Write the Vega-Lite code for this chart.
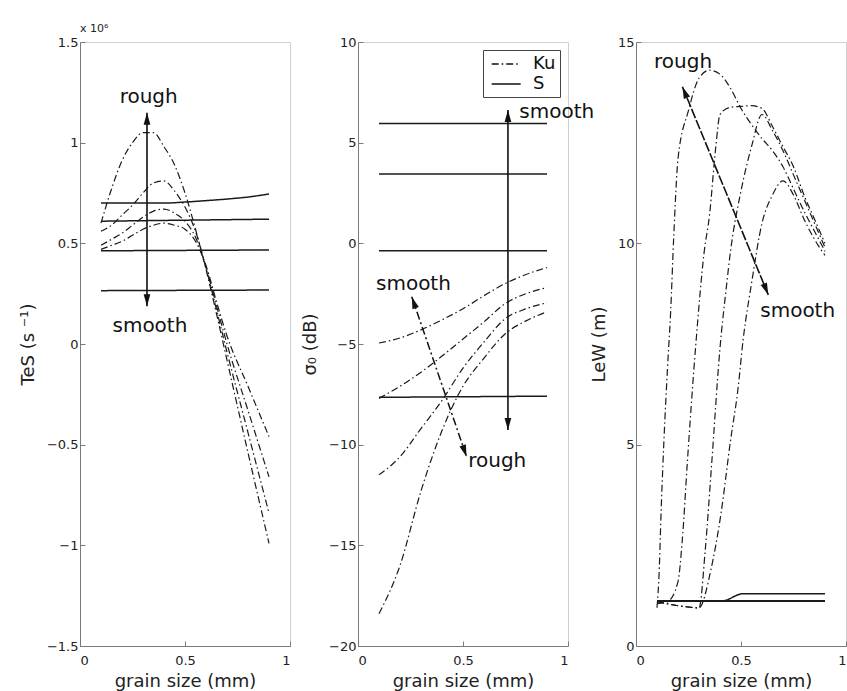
{
  "$schema": "https://vega.github.io/schema/vega-lite/v6.json",
  "background": "white",
  "padding": {"left": 18, "top": 22, "right": 0, "bottom": 0},
  "bounds": "flush",
  "spacing": 68,
  "config": {
    "font": "DejaVu Sans",
    "view": {"stroke": "#cfcfcf", "strokeWidth": 1},
    "axis": {
      "grid": false,
      "domainColor": "#7a7a7a",
      "tickColor": "#7a7a7a",
      "tickSize": -5,
      "labelColor": "#222",
      "titleColor": "#222",
      "labelFontSize": 13,
      "titleFontSize": 18,
      "titleFontWeight": "normal",
      "labelFont": "DejaVu Sans",
      "titleFont": "DejaVu Sans",
      "labelPadding": 7,
      "titlePadding": 4
    },
    "axisY": {"titlePadding": 9},
    "axisX": {"labelPadding": 13, "titlePadding": 5},
    "legend": {"symbolFillColor": "transparent"}
  },
  "datasets": {
    "p1": [
      {"curve": "A", "band": "Ku", "x": 0.1, "y": 0.6}, {"curve": "A", "band": "Ku", "x": 0.15, "y": 0.77}, {"curve": "A", "band": "Ku", "x": 0.2, "y": 0.91}, {"curve": "A", "band": "Ku", "x": 0.25, "y": 1.0}, {"curve": "A", "band": "Ku", "x": 0.3, "y": 1.05}, {"curve": "A", "band": "Ku", "x": 0.35, "y": 1.05}, {"curve": "A", "band": "Ku", "x": 0.4, "y": 0.98}, {"curve": "A", "band": "Ku", "x": 0.45, "y": 0.89}, {"curve": "A", "band": "Ku", "x": 0.5, "y": 0.75}, {"curve": "A", "band": "Ku", "x": 0.55, "y": 0.57}, {"curve": "A", "band": "Ku", "x": 0.6, "y": 0.37}, {"curve": "A", "band": "Ku", "x": 0.65, "y": 0.15}, {"curve": "A", "band": "Ku", "x": 0.7, "y": -0.08}, {"curve": "A", "band": "Ku", "x": 0.8, "y": -0.54}, {"curve": "A", "band": "Ku", "x": 0.9, "y": -0.99},
      {"curve": "B", "band": "Ku", "x": 0.1, "y": 0.56}, {"curve": "B", "band": "Ku", "x": 0.15, "y": 0.59}, {"curve": "B", "band": "Ku", "x": 0.2, "y": 0.64}, {"curve": "B", "band": "Ku", "x": 0.25, "y": 0.69}, {"curve": "B", "band": "Ku", "x": 0.3, "y": 0.75}, {"curve": "B", "band": "Ku", "x": 0.35, "y": 0.8}, {"curve": "B", "band": "Ku", "x": 0.4, "y": 0.81}, {"curve": "B", "band": "Ku", "x": 0.45, "y": 0.76}, {"curve": "B", "band": "Ku", "x": 0.5, "y": 0.68}, {"curve": "B", "band": "Ku", "x": 0.55, "y": 0.56}, {"curve": "B", "band": "Ku", "x": 0.6, "y": 0.38}, {"curve": "B", "band": "Ku", "x": 0.65, "y": 0.17}, {"curve": "B", "band": "Ku", "x": 0.7, "y": -0.04}, {"curve": "B", "band": "Ku", "x": 0.8, "y": -0.44}, {"curve": "B", "band": "Ku", "x": 0.9, "y": -0.84},
      {"curve": "C", "band": "Ku", "x": 0.1, "y": 0.49}, {"curve": "C", "band": "Ku", "x": 0.15, "y": 0.52}, {"curve": "C", "band": "Ku", "x": 0.2, "y": 0.55}, {"curve": "C", "band": "Ku", "x": 0.25, "y": 0.59}, {"curve": "C", "band": "Ku", "x": 0.3, "y": 0.63}, {"curve": "C", "band": "Ku", "x": 0.35, "y": 0.66}, {"curve": "C", "band": "Ku", "x": 0.4, "y": 0.67}, {"curve": "C", "band": "Ku", "x": 0.45, "y": 0.65}, {"curve": "C", "band": "Ku", "x": 0.5, "y": 0.61}, {"curve": "C", "band": "Ku", "x": 0.55, "y": 0.53}, {"curve": "C", "band": "Ku", "x": 0.6, "y": 0.38}, {"curve": "C", "band": "Ku", "x": 0.65, "y": 0.19}, {"curve": "C", "band": "Ku", "x": 0.7, "y": 0.0}, {"curve": "C", "band": "Ku", "x": 0.8, "y": -0.33}, {"curve": "C", "band": "Ku", "x": 0.9, "y": -0.66},
      {"curve": "D", "band": "Ku", "x": 0.1, "y": 0.47}, {"curve": "D", "band": "Ku", "x": 0.15, "y": 0.49}, {"curve": "D", "band": "Ku", "x": 0.2, "y": 0.51}, {"curve": "D", "band": "Ku", "x": 0.25, "y": 0.54}, {"curve": "D", "band": "Ku", "x": 0.3, "y": 0.57}, {"curve": "D", "band": "Ku", "x": 0.35, "y": 0.59}, {"curve": "D", "band": "Ku", "x": 0.4, "y": 0.6}, {"curve": "D", "band": "Ku", "x": 0.45, "y": 0.59}, {"curve": "D", "band": "Ku", "x": 0.5, "y": 0.57}, {"curve": "D", "band": "Ku", "x": 0.55, "y": 0.51}, {"curve": "D", "band": "Ku", "x": 0.6, "y": 0.39}, {"curve": "D", "band": "Ku", "x": 0.65, "y": 0.21}, {"curve": "D", "band": "Ku", "x": 0.7, "y": 0.04}, {"curve": "D", "band": "Ku", "x": 0.8, "y": -0.21}, {"curve": "D", "band": "Ku", "x": 0.9, "y": -0.46},
      {"curve": "S1", "band": "S", "x": 0.1, "y": 0.7}, {"curve": "S1", "band": "S", "x": 0.4, "y": 0.7}, {"curve": "S1", "band": "S", "x": 0.5, "y": 0.705}, {"curve": "S1", "band": "S", "x": 0.6, "y": 0.712}, {"curve": "S1", "band": "S", "x": 0.7, "y": 0.72}, {"curve": "S1", "band": "S", "x": 0.8, "y": 0.73}, {"curve": "S1", "band": "S", "x": 0.9, "y": 0.745},
      {"curve": "S2", "band": "S", "x": 0.1, "y": 0.61}, {"curve": "S2", "band": "S", "x": 0.9, "y": 0.62},
      {"curve": "S3", "band": "S", "x": 0.1, "y": 0.463}, {"curve": "S3", "band": "S", "x": 0.9, "y": 0.467},
      {"curve": "S4", "band": "S", "x": 0.1, "y": 0.265}, {"curve": "S4", "band": "S", "x": 0.9, "y": 0.268}
    ],
    "p2": [
      {"curve": "K1", "band": "Ku", "x": 0.1, "y": -4.95}, {"curve": "K1", "band": "Ku", "x": 0.2, "y": -4.7}, {"curve": "K1", "band": "Ku", "x": 0.3, "y": -4.3}, {"curve": "K1", "band": "Ku", "x": 0.4, "y": -3.8}, {"curve": "K1", "band": "Ku", "x": 0.5, "y": -3.25}, {"curve": "K1", "band": "Ku", "x": 0.6, "y": -2.6}, {"curve": "K1", "band": "Ku", "x": 0.7, "y": -2.0}, {"curve": "K1", "band": "Ku", "x": 0.8, "y": -1.55}, {"curve": "K1", "band": "Ku", "x": 0.9, "y": -1.2},
      {"curve": "K2", "band": "Ku", "x": 0.1, "y": -7.7}, {"curve": "K2", "band": "Ku", "x": 0.2, "y": -7.1}, {"curve": "K2", "band": "Ku", "x": 0.3, "y": -6.4}, {"curve": "K2", "band": "Ku", "x": 0.4, "y": -5.6}, {"curve": "K2", "band": "Ku", "x": 0.5, "y": -4.75}, {"curve": "K2", "band": "Ku", "x": 0.6, "y": -3.9}, {"curve": "K2", "band": "Ku", "x": 0.7, "y": -3.0}, {"curve": "K2", "band": "Ku", "x": 0.8, "y": -2.5}, {"curve": "K2", "band": "Ku", "x": 0.9, "y": -2.2},
      {"curve": "K3", "band": "Ku", "x": 0.1, "y": -11.5}, {"curve": "K3", "band": "Ku", "x": 0.2, "y": -10.6}, {"curve": "K3", "band": "Ku", "x": 0.3, "y": -9.2}, {"curve": "K3", "band": "Ku", "x": 0.4, "y": -7.8}, {"curve": "K3", "band": "Ku", "x": 0.5, "y": -6.2}, {"curve": "K3", "band": "Ku", "x": 0.6, "y": -4.9}, {"curve": "K3", "band": "Ku", "x": 0.7, "y": -3.75}, {"curve": "K3", "band": "Ku", "x": 0.8, "y": -3.25}, {"curve": "K3", "band": "Ku", "x": 0.9, "y": -2.95},
      {"curve": "K4", "band": "Ku", "x": 0.1, "y": -18.4}, {"curve": "K4", "band": "Ku", "x": 0.2, "y": -16.0}, {"curve": "K4", "band": "Ku", "x": 0.3, "y": -12.3}, {"curve": "K4", "band": "Ku", "x": 0.4, "y": -9.3}, {"curve": "K4", "band": "Ku", "x": 0.5, "y": -7.1}, {"curve": "K4", "band": "Ku", "x": 0.6, "y": -5.7}, {"curve": "K4", "band": "Ku", "x": 0.7, "y": -4.5}, {"curve": "K4", "band": "Ku", "x": 0.8, "y": -3.85}, {"curve": "K4", "band": "Ku", "x": 0.9, "y": -3.4},
      {"curve": "S1", "band": "S", "x": 0.1, "y": 5.95}, {"curve": "S1", "band": "S", "x": 0.9, "y": 5.95},
      {"curve": "S2", "band": "S", "x": 0.1, "y": 3.44}, {"curve": "S2", "band": "S", "x": 0.9, "y": 3.44},
      {"curve": "S3", "band": "S", "x": 0.1, "y": -0.37}, {"curve": "S3", "band": "S", "x": 0.9, "y": -0.37},
      {"curve": "S4", "band": "S", "x": 0.1, "y": -7.65}, {"curve": "S4", "band": "S", "x": 0.9, "y": -7.59}
    ],
    "p3": [
      {"curve": "a", "band": "Ku", "x": 0.1, "y": 0.95}, {"curve": "a", "band": "Ku", "x": 0.11, "y": 1.8}, {"curve": "a", "band": "Ku", "x": 0.12, "y": 3.4}, {"curve": "a", "band": "Ku", "x": 0.133, "y": 5.1}, {"curve": "a", "band": "Ku", "x": 0.15, "y": 6.9}, {"curve": "a", "band": "Ku", "x": 0.165, "y": 8.3}, {"curve": "a", "band": "Ku", "x": 0.18, "y": 10.2}, {"curve": "a", "band": "Ku", "x": 0.2, "y": 12.1}, {"curve": "a", "band": "Ku", "x": 0.25, "y": 13.3}, {"curve": "a", "band": "Ku", "x": 0.3, "y": 14.1}, {"curve": "a", "band": "Ku", "x": 0.35, "y": 14.3}, {"curve": "a", "band": "Ku", "x": 0.4, "y": 14.2}, {"curve": "a", "band": "Ku", "x": 0.45, "y": 13.85}, {"curve": "a", "band": "Ku", "x": 0.5, "y": 13.35}, {"curve": "a", "band": "Ku", "x": 0.55, "y": 12.95}, {"curve": "a", "band": "Ku", "x": 0.6, "y": 12.6}, {"curve": "a", "band": "Ku", "x": 0.65, "y": 12.3}, {"curve": "a", "band": "Ku", "x": 0.7, "y": 11.9}, {"curve": "a", "band": "Ku", "x": 0.75, "y": 11.35}, {"curve": "a", "band": "Ku", "x": 0.8, "y": 10.8}, {"curve": "a", "band": "Ku", "x": 0.85, "y": 10.3}, {"curve": "a", "band": "Ku", "x": 0.9, "y": 9.8},
      {"curve": "b", "band": "Ku", "x": 0.1, "y": 1.05}, {"curve": "b", "band": "Ku", "x": 0.15, "y": 1.1}, {"curve": "b", "band": "Ku", "x": 0.2, "y": 1.6}, {"curve": "b", "band": "Ku", "x": 0.22, "y": 2.6}, {"curve": "b", "band": "Ku", "x": 0.245, "y": 4.6}, {"curve": "b", "band": "Ku", "x": 0.285, "y": 7.5}, {"curve": "b", "band": "Ku", "x": 0.325, "y": 9.8}, {"curve": "b", "band": "Ku", "x": 0.35, "y": 10.7}, {"curve": "b", "band": "Ku", "x": 0.38, "y": 12.4}, {"curve": "b", "band": "Ku", "x": 0.4, "y": 13.2}, {"curve": "b", "band": "Ku", "x": 0.45, "y": 13.38}, {"curve": "b", "band": "Ku", "x": 0.5, "y": 13.4}, {"curve": "b", "band": "Ku", "x": 0.55, "y": 13.42}, {"curve": "b", "band": "Ku", "x": 0.6, "y": 13.35}, {"curve": "b", "band": "Ku", "x": 0.65, "y": 12.9}, {"curve": "b", "band": "Ku", "x": 0.7, "y": 12.4}, {"curve": "b", "band": "Ku", "x": 0.75, "y": 11.9}, {"curve": "b", "band": "Ku", "x": 0.8, "y": 11.2}, {"curve": "b", "band": "Ku", "x": 0.85, "y": 10.6}, {"curve": "b", "band": "Ku", "x": 0.9, "y": 10.0},
      {"curve": "c", "band": "Ku", "x": 0.1, "y": 1.1}, {"curve": "c", "band": "Ku", "x": 0.15, "y": 1.05}, {"curve": "c", "band": "Ku", "x": 0.2, "y": 1.0}, {"curve": "c", "band": "Ku", "x": 0.25, "y": 0.97}, {"curve": "c", "band": "Ku", "x": 0.3, "y": 0.94}, {"curve": "c", "band": "Ku", "x": 0.33, "y": 2.4}, {"curve": "c", "band": "Ku", "x": 0.36, "y": 4.5}, {"curve": "c", "band": "Ku", "x": 0.4, "y": 7.4}, {"curve": "c", "band": "Ku", "x": 0.43, "y": 8.9}, {"curve": "c", "band": "Ku", "x": 0.45, "y": 9.8}, {"curve": "c", "band": "Ku", "x": 0.5, "y": 11.3}, {"curve": "c", "band": "Ku", "x": 0.55, "y": 12.4}, {"curve": "c", "band": "Ku", "x": 0.6, "y": 13.2}, {"curve": "c", "band": "Ku", "x": 0.65, "y": 12.8}, {"curve": "c", "band": "Ku", "x": 0.7, "y": 12.3}, {"curve": "c", "band": "Ku", "x": 0.75, "y": 11.7}, {"curve": "c", "band": "Ku", "x": 0.8, "y": 11.1}, {"curve": "c", "band": "Ku", "x": 0.85, "y": 10.5}, {"curve": "c", "band": "Ku", "x": 0.9, "y": 9.9},
      {"curve": "d", "band": "Ku", "x": 0.1, "y": 1.1}, {"curve": "d", "band": "Ku", "x": 0.2, "y": 1.0}, {"curve": "d", "band": "Ku", "x": 0.3, "y": 0.95}, {"curve": "d", "band": "Ku", "x": 0.357, "y": 1.9}, {"curve": "d", "band": "Ku", "x": 0.405, "y": 3.3}, {"curve": "d", "band": "Ku", "x": 0.45, "y": 5.1}, {"curve": "d", "band": "Ku", "x": 0.486, "y": 6.4}, {"curve": "d", "band": "Ku", "x": 0.51, "y": 7.6}, {"curve": "d", "band": "Ku", "x": 0.55, "y": 9.0}, {"curve": "d", "band": "Ku", "x": 0.6, "y": 10.5}, {"curve": "d", "band": "Ku", "x": 0.65, "y": 11.2}, {"curve": "d", "band": "Ku", "x": 0.7, "y": 11.55}, {"curve": "d", "band": "Ku", "x": 0.75, "y": 11.2}, {"curve": "d", "band": "Ku", "x": 0.8, "y": 10.6}, {"curve": "d", "band": "Ku", "x": 0.85, "y": 10.1}, {"curve": "d", "band": "Ku", "x": 0.9, "y": 9.7},
      {"curve": "S1", "band": "S", "x": 0.1, "y": 1.12}, {"curve": "S1", "band": "S", "x": 0.9, "y": 1.12},
      {"curve": "S2", "band": "S", "x": 0.1, "y": 1.12}, {"curve": "S2", "band": "S", "x": 0.9, "y": 1.12},
      {"curve": "S3", "band": "S", "x": 0.1, "y": 1.12}, {"curve": "S3", "band": "S", "x": 0.9, "y": 1.12},
      {"curve": "S4", "band": "S", "x": 0.1, "y": 1.12}, {"curve": "S4", "band": "S", "x": 0.41, "y": 1.12}, {"curve": "S4", "band": "S", "x": 0.51, "y": 1.3}, {"curve": "S4", "band": "S", "x": 0.9, "y": 1.3}
    ]
  },
  "resolve": {"legend": {"strokeDash": "independent"}},
  "hconcat": [
    {
      "width": 210,
      "height": 604,
      "title": {"text": "x 10⁶", "anchor": "start", "frame": "group", "fontSize": 11, "fontWeight": "normal", "color": "#222", "offset": 2, "font": "DejaVu Sans"},
      "layer": [
        {
          "data": {"name": "p1"},
          "mark": {"type": "line", "interpolate": "monotone", "color": "#1a1a1a"},
          "encoding": {
            "x": {"field": "x", "type": "quantitative", "scale": {"domain": [0, 1], "nice": false}, "axis": {"values": [0, 0.5, 1], "format": "~g", "title": "grain size (mm)"}},
            "y": {"field": "y", "type": "quantitative", "scale": {"domain": [-1.5, 1.5], "nice": false}, "axis": {"values": [-1.5, -1, -0.5, 0, 0.5, 1, 1.5], "format": "~g", "title": "TeS (s ⁻¹)"}},
            "detail": {"field": "curve"},
            "strokeDash": {"field": "band", "type": "nominal", "scale": {"domain": ["Ku", "S"], "range": [[7, 3, 1.5, 3], [1, 0]]}, "legend": null},
            "strokeWidth": {"field": "band", "type": "nominal", "scale": {"domain": ["Ku", "S"], "range": [1.2, 1.5]}, "legend": null}
          }
        },
        {
          "data": {"values": [{"x": 0.319, "y": 0.188, "x2": 0.319, "y2": 1.149}]},
          "mark": {"type": "rule", "color": "#111", "strokeWidth": 1.6},
          "encoding": {"x": {"field": "x", "type": "quantitative"}, "y": {"field": "y", "type": "quantitative"}, "x2": {"field": "x2"}, "y2": {"field": "y2"}}
        },
        {
          "data": {"values": [{"x": 0.319, "y": 1.149}]},
          "mark": {"type": "point", "shape": "M0,0L0.45,1.6L-0.45,1.6Z", "filled": true, "color": "#111", "opacity": 1, "size": 225, "angle": 0},
          "encoding": {"x": {"field": "x", "type": "quantitative"}, "y": {"field": "y", "type": "quantitative"}}
        },
        {
          "data": {"values": [{"x": 0.319, "y": 0.188}]},
          "mark": {"type": "point", "shape": "M0,0L0.45,1.6L-0.45,1.6Z", "filled": true, "color": "#111", "opacity": 1, "size": 225, "angle": 180},
          "encoding": {"x": {"field": "x", "type": "quantitative"}, "y": {"field": "y", "type": "quantitative"}}
        },
        {
          "data": {"values": [{"x": 0.327, "y": 1.197, "label": "rough"}, {"x": 0.333, "y": 0.061, "label": "smooth"}]},
          "mark": {"type": "text", "fontSize": 20, "font": "DejaVu Sans", "align": "center", "baseline": "alphabetic", "color": "#111"},
          "encoding": {"x": {"field": "x", "type": "quantitative"}, "y": {"field": "y", "type": "quantitative"}, "text": {"field": "label"}}
        }
      ]
    },
    {
      "width": 210,
      "height": 604,
      "layer": [
        {
          "data": {"name": "p2"},
          "mark": {"type": "line", "interpolate": "monotone", "color": "#1a1a1a"},
          "encoding": {
            "x": {"field": "x", "type": "quantitative", "scale": {"domain": [0, 1], "nice": false}, "axis": {"values": [0, 0.5, 1], "format": "~g", "title": "grain size (mm)"}},
            "y": {"field": "y", "type": "quantitative", "scale": {"domain": [-20, 10], "nice": false}, "axis": {"values": [-20, -15, -10, -5, 0, 5, 10], "format": "~g", "title": "σ₀ (dB)"}},
            "detail": {"field": "curve"},
            "strokeDash": {"field": "band", "type": "nominal", "scale": {"domain": ["Ku", "S"], "range": [[7, 3, 1.5, 3], [1, 0]]},
              "legend": {"title": null, "orient": "top-right", "offset": 8, "strokeColor": "#444", "fillColor": "white", "padding": 4, "labelFontSize": 18, "labelFont": "DejaVu Sans", "labelColor": "#111", "symbolType": "M-0.59,0H2.63", "symbolSize": 324, "symbolStrokeWidth": 1.4, "symbolStrokeColor": "#111", "symbolFillColor": "transparent", "labelOffset": 26, "rowPadding": 1}},
            "strokeWidth": {"field": "band", "type": "nominal", "scale": {"domain": ["Ku", "S"], "range": [1.2, 1.5]}, "legend": null}
          }
        },
        {
          "data": {"values": [{"x": 0.714, "y": -9.27, "x2": 0.714, "y2": 6.62}]},
          "mark": {"type": "rule", "color": "#111", "strokeWidth": 1.6},
          "encoding": {"x": {"field": "x", "type": "quantitative"}, "y": {"field": "y", "type": "quantitative"}, "x2": {"field": "x2"}, "y2": {"field": "y2"}}
        },
        {
          "data": {"values": [{"x": 0.256, "y": -2.65, "x2": 0.517, "y2": -10.6}]},
          "mark": {"type": "rule", "color": "#111", "strokeWidth": 1.5, "strokeDash": [8, 3, 2, 3]},
          "encoding": {"x": {"field": "x", "type": "quantitative"}, "y": {"field": "y", "type": "quantitative"}, "x2": {"field": "x2"}, "y2": {"field": "y2"}}
        },
        {
          "data": {"values": [{"x": 0.714, "y": 6.62}]},
          "mark": {"type": "point", "shape": "M0,0L0.45,1.6L-0.45,1.6Z", "filled": true, "color": "#111", "opacity": 1, "size": 225, "angle": 0},
          "encoding": {"x": {"field": "x", "type": "quantitative"}, "y": {"field": "y", "type": "quantitative"}}
        },
        {
          "data": {"values": [{"x": 0.714, "y": -9.27}]},
          "mark": {"type": "point", "shape": "M0,0L0.45,1.6L-0.45,1.6Z", "filled": true, "color": "#111", "opacity": 1, "size": 225, "angle": 180},
          "encoding": {"x": {"field": "x", "type": "quantitative"}, "y": {"field": "y", "type": "quantitative"}}
        },
        {
          "data": {"values": [{"x": 0.256, "y": -2.65}]},
          "mark": {"type": "point", "shape": "M0,0L0.45,1.6L-0.45,1.6Z", "filled": true, "color": "#111", "opacity": 1, "size": 225, "angle": 341},
          "encoding": {"x": {"field": "x", "type": "quantitative"}, "y": {"field": "y", "type": "quantitative"}}
        },
        {
          "data": {"values": [{"x": 0.517, "y": -10.6}]},
          "mark": {"type": "point", "shape": "M0,0L0.45,1.6L-0.45,1.6Z", "filled": true, "color": "#111", "opacity": 1, "size": 225, "angle": 161},
          "encoding": {"x": {"field": "x", "type": "quantitative"}, "y": {"field": "y", "type": "quantitative"}}
        },
        {
          "data": {"values": [{"x": 0.264, "y": -2.32, "label": "smooth"}, {"x": 0.663, "y": -11.1, "label": "rough"}]},
          "mark": {"type": "text", "fontSize": 20, "font": "DejaVu Sans", "align": "center", "baseline": "alphabetic", "color": "#111"},
          "encoding": {"x": {"field": "x", "type": "quantitative"}, "y": {"field": "y", "type": "quantitative"}, "text": {"field": "label"}}
        },
        {
          "data": {"values": [{"x": 0.768, "y": 6.22, "label": "smooth"}]},
          "mark": {"type": "text", "fontSize": 20, "font": "DejaVu Sans", "align": "left", "baseline": "alphabetic", "color": "#111"},
          "encoding": {"x": {"field": "x", "type": "quantitative"}, "y": {"field": "y", "type": "quantitative"}, "text": {"field": "label"}}
        }
      ]
    },
    {
      "width": 210,
      "height": 604,
      "layer": [
        {
          "data": {"name": "p3"},
          "mark": {"type": "line", "interpolate": "monotone", "color": "#1a1a1a"},
          "encoding": {
            "x": {"field": "x", "type": "quantitative", "scale": {"domain": [0, 1], "nice": false}, "axis": {"values": [0, 0.5, 1], "format": "~g", "title": "grain size (mm)"}},
            "y": {"field": "y", "type": "quantitative", "scale": {"domain": [0, 15], "nice": false}, "axis": {"values": [0, 5, 10, 15], "format": "~g", "title": "LeW (m)"}},
            "detail": {"field": "curve"},
            "strokeDash": {"field": "band", "type": "nominal", "scale": {"domain": ["Ku", "S"], "range": [[7, 3, 1.5, 3], [1, 0]]}, "legend": null},
            "strokeWidth": {"field": "band", "type": "nominal", "scale": {"domain": ["Ku", "S"], "range": [1.2, 1.5]}, "legend": null}
          }
        },
        {
          "data": {"values": [{"x": 0.221, "y": 13.89, "x2": 0.63, "y2": 8.72}]},
          "mark": {"type": "rule", "color": "#111", "strokeWidth": 1.6, "strokeDash": [10, 2]},
          "encoding": {"x": {"field": "x", "type": "quantitative"}, "y": {"field": "y", "type": "quantitative"}, "x2": {"field": "x2"}, "y2": {"field": "y2"}}
        },
        {
          "data": {"values": [{"x": 0.221, "y": 13.89}]},
          "mark": {"type": "point", "shape": "M0,0L0.45,1.6L-0.45,1.6Z", "filled": true, "color": "#111", "opacity": 1, "size": 225, "angle": 337.8},
          "encoding": {"x": {"field": "x", "type": "quantitative"}, "y": {"field": "y", "type": "quantitative"}}
        },
        {
          "data": {"values": [{"x": 0.63, "y": 8.72}]},
          "mark": {"type": "point", "shape": "M0,0L0.45,1.6L-0.45,1.6Z", "filled": true, "color": "#111", "opacity": 1, "size": 225, "angle": 157.8},
          "encoding": {"x": {"field": "x", "type": "quantitative"}, "y": {"field": "y", "type": "quantitative"}}
        },
        {
          "data": {"values": [{"x": 0.224, "y": 14.35, "label": "rough"}, {"x": 0.77, "y": 8.18, "label": "smooth"}]},
          "mark": {"type": "text", "fontSize": 20, "font": "DejaVu Sans", "align": "center", "baseline": "alphabetic", "color": "#111"},
          "encoding": {"x": {"field": "x", "type": "quantitative"}, "y": {"field": "y", "type": "quantitative"}, "text": {"field": "label"}}
        }
      ]
    }
  ]
}
